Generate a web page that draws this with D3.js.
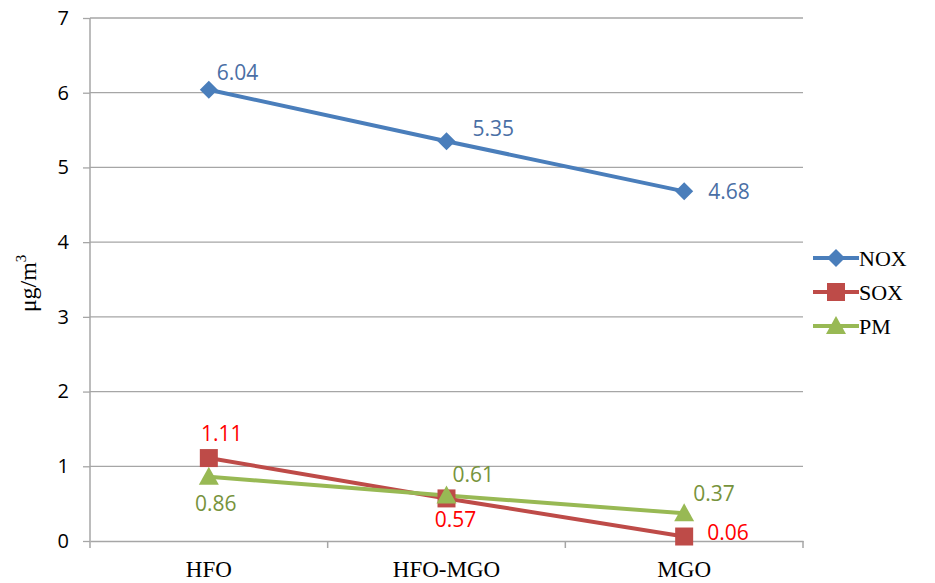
<!DOCTYPE html>
<html>
<head>
<meta charset="utf-8">
<script src="https://cdn.jsdelivr.net/npm/d3@7"></script>
<style>
  body { margin: 0; background: #fff; }
  svg { display: block; }
</style>
</head>
<body>
<div id="chart"></div>
<script>
// Daten
const categories = ["HFO", "HFO-MGO", "MGO"];
const noxValues = [6.04, 5.35, 4.68];
const soxValues = [1.11, 0.57, 0.06];
const pmValues = [0.86, 0.61, 0.37];
const yTicks = [0, 1, 2, 3, 4, 5, 6, 7];

const series = [
    { name: "NOX", values: noxValues, color: "#4A7EBB", labelColor: "#4A6FA5", marker: "diamond" },
    { name: "SOX", values: soxValues, color: "#BE4B48", labelColor: "#FF0000", marker: "square" },
    { name: "PM", values: pmValues, color: "#98B954", labelColor: "#77933C", marker: "triangle" }
];

// Label-Versatz pro Punkt (dx, dy, anchor)
const labelOffsets = {
    NOX: [[8, -18, "start"], [26, -13, "start"], [24, 0, "start"]],
    SOX: [[13, -25, "middle"], [9, 21, "middle"], [23, -5, "start"]],
    PM: [[7, 26, "middle"], [6, -21, "start"], [9, -20, "start"]]
};

const width = 935, height = 583;
const margin = { left: 90, right: 132, top: 18, bottom: 42 };

const svg = d3.select("#chart").append("svg")
    .attr("width", width)
    .attr("height", height);

const x = d3.scaleBand()
    .domain(categories)
    .range([margin.left, width - margin.right]);

const y = d3.scaleLinear()
    .domain([0, 7])
    .range([height - margin.bottom, margin.top]);

const gridColor = "#A6A6A6";

// Gitterlinien
svg.append("g")
    .selectAll("line")
    .data(yTicks.slice(1))
    .enter().append("line")
    .attr("x1", margin.left)
    .attr("x2", width - margin.right)
    .attr("y1", d => y(d))
    .attr("y2", d => y(d))
    .style("stroke", gridColor)
    .style("stroke-width", 1.3);

// Y-Achse
const yAxis = svg.append("g")
    .attr("transform", `translate(${margin.left},0)`)
    .call(d3.axisLeft(y).tickValues(yTicks).tickSize(7).tickPadding(14).tickFormat(d3.format("d")));
yAxis.select(".domain").style("stroke", gridColor).style("stroke-width", 1.5).attr("d", `M0,${y(0)}V${y(7)}`);
yAxis.selectAll(".tick line").style("stroke", gridColor).style("stroke-width", 1.3);
yAxis.selectAll("text")
    .style("font-family", "'Open Sans', 'Liberation Sans', sans-serif")
    .style("font-size", "20px")
    .style("fill", "#000");

// X-Achse
const xAxis = svg.append("g")
    .attr("transform", `translate(0,${y(0)})`)
    .call(d3.axisBottom(x).tickSize(0).tickPadding(20));
xAxis.select(".domain").style("stroke", gridColor).style("stroke-width", 1.5);
xAxis.selectAll("text")
    .style("font-family", "'Liberation Serif', 'Times New Roman', serif")
    .style("font-size", "23px")
    .style("fill", "#000");

// Tick-Marken an den Kategoriegrenzen
const bounds = categories.map(c => x(c)).concat([x(categories[categories.length - 1]) + x.bandwidth()]);
svg.append("g")
    .selectAll("line")
    .data(bounds)
    .enter().append("line")
    .attr("x1", d => d)
    .attr("x2", d => d)
    .attr("y1", y(0))
    .attr("y2", y(0) + 7)
    .style("stroke", gridColor)
    .style("stroke-width", 1.5);

// Achsentitel
svg.append("text")
    .attr("transform", `translate(36,${(y(0) + y(7)) / 2 + 4}) rotate(-90)`)
    .attr("text-anchor", "middle")
    .style("font-family", "'Liberation Serif', 'Times New Roman', serif")
    .style("font-size", "24px")
    .html('μg/m<tspan dy="-10" font-size="15px">3</tspan>');

const cx = d => x(d) + x.bandwidth() / 2;

function markerPath(type) {
    if (type === "diamond") return "M0,-9L9,0L0,9L-9,0Z";
    if (type === "square") return "M-9,-9H9V9H-9Z";
    return "M0,-10L10,8H-10Z";
}

const line = d3.line()
    .x((d, i) => cx(categories[i]))
    .y(d => y(d));

// Linien, Marker und Beschriftungen
series.forEach(s => {
    svg.append("path")
        .datum(s.values)
        .attr("d", line)
        .style("fill", "none")
        .style("stroke", s.color)
        .style("stroke-width", 4);
});

series.forEach(s => {
    svg.append("g")
        .selectAll("path")
        .data(s.values)
        .enter().append("path")
        .attr("d", markerPath(s.marker))
        .attr("transform", (d, i) => `translate(${cx(categories[i])},${y(d)})`)
        .style("fill", s.color);
});

series.forEach(s => {
    svg.append("g")
        .selectAll("text")
        .data(s.values)
        .enter().append("text")
        .attr("x", (d, i) => cx(categories[i]) + labelOffsets[s.name][i][0])
        .attr("y", (d, i) => y(d) + labelOffsets[s.name][i][1])
        .attr("text-anchor", (d, i) => labelOffsets[s.name][i][2])
        .attr("dominant-baseline", "central")
        .style("font-family", "'Open Sans', 'Liberation Sans', sans-serif")
        .style("font-size", "21px")
        .style("fill", s.labelColor)
        .text(d => d3.format(".2f")(d));
});

// Legende
const legend = svg.append("g")
    .attr("transform", "translate(813,258)");
series.forEach((s, i) => {
    const g = legend.append("g").attr("transform", `translate(0,${i * 34})`);
    g.append("line")
        .attr("x1", 0).attr("x2", 46)
        .style("stroke", s.color)
        .style("stroke-width", 4);
    g.append("path")
        .attr("d", markerPath(s.marker))
        .attr("transform", `translate(23,0)`)
        .style("fill", s.color);
    g.append("text")
        .attr("x", 46)
        .attr("dominant-baseline", "central")
        .style("font-family", "'Liberation Serif', 'Times New Roman', serif")
        .style("font-size", "22px")
        .text(s.name);
});
</script>
</body>
</html>
